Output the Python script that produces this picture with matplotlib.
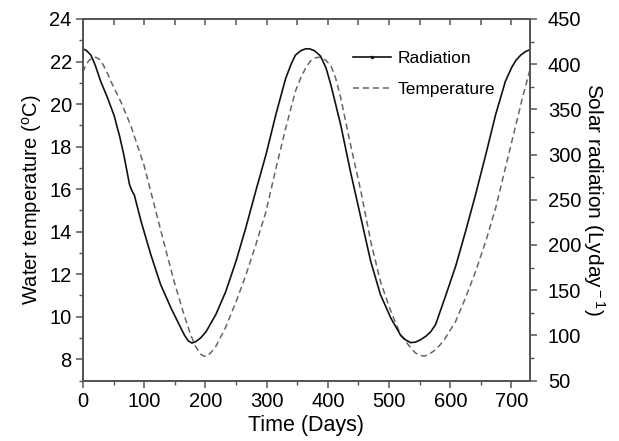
import matplotlib
matplotlib.use("Agg")
import matplotlib.pyplot as plt
from matplotlib.lines import Line2D
from matplotlib.ticker import MultipleLocator

plt.rcParams['font.family'] = ['Liberation Sans', 'DejaVu Sans']
plt.rcParams['mathtext.fontset'] = 'custom'
plt.rcParams['mathtext.rm'] = 'Liberation Sans'
plt.rcParams['mathtext.it'] = 'Liberation Sans'

# Solar radiation (right axis, Ly/day)
rad_days = [0, 6, 13, 20, 29, 40, 51, 60, 67, 76, 80, 84, 95, 111, 127, 144, 152, 160, 166,
            172, 178, 184, 192, 201, 217, 233, 250, 266, 282, 299, 315, 331, 340, 347, 356,
            364, 370, 378, 388, 397, 405, 421, 437, 454, 470, 486, 503, 519, 527, 535, 543,
            551, 560, 568, 576, 592, 609, 625, 641, 658, 674, 690, 700, 707, 715, 723, 730]
rad_vals = [417, 415, 410, 399, 381, 363, 343, 320, 299, 267, 260, 255, 226, 189, 156, 130, 119, 108, 100,
            94, 91.5, 93, 97, 104, 123, 148, 182, 219, 259, 300, 344, 384, 400, 410, 415,
            417, 417, 415, 409, 396, 377, 333, 281, 230, 182, 145, 119, 100, 95, 92, 92.5,
            95, 99, 104, 112, 143, 177, 215, 255, 300, 344, 381, 396, 404, 410, 414, 416]

# Water temperature (left axis, deg C)
temp_days = [0, 5, 10, 16, 21, 27, 33, 40, 46, 62, 78, 100, 116, 133, 149, 165, 176, 184, 192,
             197, 203, 210, 217, 233, 250, 266, 282, 299, 315, 331, 347, 356, 364, 371, 377,
             384, 390, 397, 405, 413, 421, 437, 454, 470, 486, 503, 519, 535, 543, 551, 558,
             566, 576, 584, 592, 609, 625, 641, 658, 674, 690, 707, 718, 730]
temp_vals = [21.5, 21.85, 22.05, 22.18, 22.2, 22.1, 21.85, 21.45, 21.05, 20.1, 19.0, 17.1, 15.3, 13.4, 11.65, 10.1, 9.15, 8.6, 8.25,
             8.15, 8.15, 8.35, 8.6, 9.5, 10.7, 11.95, 13.35, 14.95, 16.95, 18.85, 20.6, 21.25, 21.7, 22.0, 22.15,
             22.2, 22.18, 22.05, 21.8, 21.2, 20.3, 18.1, 15.9, 13.55, 11.65, 10.25, 9.15, 8.55, 8.3, 8.18, 8.15,
             8.25, 8.45, 8.7, 9.0, 9.8, 10.9, 12.1, 13.55, 15.1, 17.0, 19.0, 20.3, 21.6]

fig = plt.figure(figsize=(6.19, 4.41), dpi=100)
ax = fig.add_axes([0.134, 0.137, 0.722, 0.820])
ax2 = ax.twinx()

spine_col = '#555555'
lw = 1.1
dash = (0, (4, 2.5))

ax.plot(temp_days, temp_vals, color='#666666', lw=lw, ls=dash)
ax2.plot(rad_days, rad_vals, color='#111111', lw=1.2, ls='-')

ax.set_xlim(0, 730)
ax.set_ylim(7, 24)
ax2.set_ylim(50, 450)

ax.xaxis.set_major_locator(MultipleLocator(100))
ax.xaxis.set_minor_locator(MultipleLocator(50))
ax.yaxis.set_major_locator(MultipleLocator(2))
ax.yaxis.set_minor_locator(MultipleLocator(1))
ax2.yaxis.set_major_locator(MultipleLocator(50))
ax2.yaxis.set_minor_locator(MultipleLocator(25))

for a in (ax, ax2):
    for s in a.spines.values():
        s.set_color(spine_col)
        s.set_linewidth(1.3)

fs_tick = 14.5
ax.tick_params(axis='x', which='both', direction='out', bottom=True, top=False,
               color=spine_col, labelsize=fs_tick, pad=3)
ax.tick_params(axis='x', which='major', length=5, width=1.1)
ax.tick_params(axis='x', which='minor', length=3, width=1.0)
ax.tick_params(axis='y', which='major', direction='out', length=5, width=1.1,
               color=spine_col, labelsize=fs_tick, pad=3)
ax.tick_params(axis='y', which='minor', direction='out', length=3, width=1.0, color=spine_col)
ax2.tick_params(axis='y', which='major', direction='out', length=5, width=1.1,
                color=spine_col, labelsize=fs_tick, pad=8)
ax2.tick_params(axis='y', which='minor', direction='out', length=3, width=1.0, color=spine_col)

# top inward ticks
sec = ax.secondary_xaxis('top')
sec.xaxis.set_major_locator(MultipleLocator(50))
sec.tick_params(axis='x', direction='in', length=4, width=1.1, color=spine_col,
                labeltop=False)
sec.spines['top'].set_visible(False)
sec.set_xticklabels([])

ax.set_xlabel('Time (Days)', fontsize=15.5, labelpad=3)
ax.set_ylabel(r'Water temperature ($^{\rm o}$C)', fontsize=14.5, labelpad=4)
ax2.set_ylabel(r'Solar radiation (Lyday$^{\rm -1}$)', fontsize=15, rotation=270, labelpad=18)

handles = [Line2D([], [], color='#111111', lw=1.2, marker='.', markersize=3),
           Line2D([], [], color='#666666', lw=lw, ls=dash)]
ax.legend(handles, ['Radiation', 'Temperature'], loc='upper left',
          bbox_to_anchor=(0.57, 0.955), frameon=False, fontsize=12.5,
          handlelength=2.15, handletextpad=0.4, labelspacing=0.92, numpoints=1)

fig.savefig('out.png', dpi=100)
